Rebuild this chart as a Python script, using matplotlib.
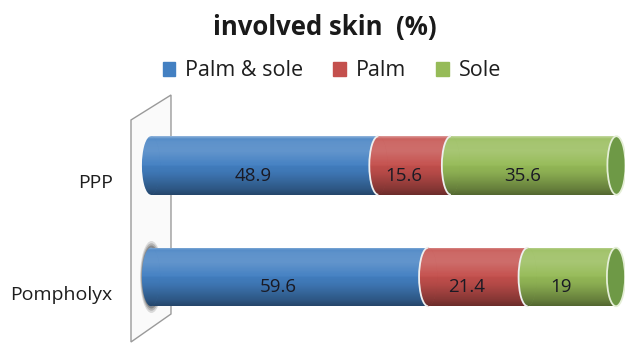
import numpy as np
import matplotlib
matplotlib.use('Agg')
import matplotlib.pyplot as plt
import matplotlib.transforms as mtrans
from matplotlib.patches import Ellipse, Arc, Polygon, Patch

plt.rcParams['font.family'] = ['Open Sans', 'DejaVu Sans']

categories = ['PPP', 'Pompholyx']
series = ['Palm & sole', 'Palm', 'Sole']
palm_sole = [48.9, 59.6]
palm = [15.6, 21.4]
sole = [35.6, 19]

colors = ['#4380c2', '#c4504d', '#96bb58']
cap_color = '#6e9946'
bar_h = 0.525
cap_w = 3.9

# vertical shading profile (top -> bottom) for the cylinder look
t = np.linspace(0, 1, 64)
white = np.interp(t, [0, 0.04, 0.1, 0.25, 0.45, 0.6, 1], [0.4, 0.1, 0.15, 0.17, 0.04, 0, 0])
black = np.interp(t, [0, 0.5, 0.65, 0.9, 1], [0, 0, 0.1, 0.32, 0.45])
grad = np.zeros((64, 1, 4))
grad[..., :3] = np.where(white[:, None, None] > 0, 1.0, 0.0)
grad[..., 3] = (white + black)[:, None]
grad[black > 0, :, :3] = 0.0


def shade(ax, patch, x0, x1, y, z):
    im = ax.imshow(grad, extent=(x0, x1, y + bar_h / 2, y - bar_h / 2),
                   origin='upper', aspect='auto', interpolation='bilinear', zorder=z)
    im.set_clip_path(patch)


fig = plt.figure(figsize=(6.25, 3.44), dpi=100)
ax = fig.add_axes([125 / 625, 0, 500 / 625, 1])

# back wall
wall = Polygon([(-4.3, -0.408), (4.3, -0.632), (4.3, 1.332), (-4.3, 1.583)], closed=True,
               fc='#fafafa', ec='#9a9a9a', lw=1.0, zorder=1)
ax.add_patch(wall)

# shadow of the lower bar on the wall
for k, a in enumerate([0.2, 0.3, 0.45]):
    ax.add_patch(Ellipse((0.1, 1), cap_w + 1.0 - k * 0.3, bar_h + 0.12 - k * 0.04,
                         fc='#5a5a5a', ec='none', alpha=a, zorder=2))

z = 3
for i, cat in enumerate(categories):
    vals = [palm_sole[i], palm[i], sole[i]]
    start = 0
    for j, v in enumerate(vals):
        bars = ax.barh(i, v, left=start, height=bar_h, color=colors[j], zorder=z)
        rect = bars.patches[0]
        shade(ax, rect, start - cap_w, start + v, i, z + 0.1)
        ell = Ellipse((start, i), cap_w, bar_h, fc=colors[j], ec='none', zorder=z + 0.2)
        ax.add_patch(ell)
        shade(ax, ell, start - cap_w, start + v, i, z + 0.3)
        if j > 0:
            ax.add_patch(Arc((start, i), cap_w, bar_h, theta1=90, theta2=270,
                             color='#eeeeee', lw=1.3, zorder=z + 0.4))
        ax.annotate(f'{v:g}', (start + v / 2, i), xytext=(-8, -7.5), textcoords='offset points',
                    ha='center', va='center', fontsize=13.5, color='#1a1a24', zorder=50)
        start += v
        z += 1
    ax.add_patch(Ellipse((start, i), cap_w, bar_h, fc=cap_color, ec='#e4eed6', lw=1.3, zorder=z))
    z += 1

handles = [Patch(color=c) for c in colors]
fig.legend(handles, series, loc='center', bbox_to_anchor=(332 / 625, 1 - 71 / 344), ncol=3,
           frameon=False, fontsize=15.5, handlelength=0.6, handleheight=0.6,
           handletextpad=0.45, columnspacing=1.4, labelcolor='#1e1e1e')

fig.text(325 / 625, 1 - 28 / 344, 'involved skin  (%)', ha='center', va='center',
         fontsize=18.5, fontweight='bold', color='#1a1a1a')

ax.set_xlim(-5.59, 101.94)
ax.set_ylim(1.601, -1.484)
ax.set_yticks(range(len(categories)), categories, fontsize=14, color='#1e1e1e')
ax.tick_params(axis='y', length=0, pad=9)
ax.set_xticks([])
off = mtrans.ScaledTranslation(0, -16 / 100, fig.dpi_scale_trans)
for lab in ax.get_yticklabels():
    lab.set_transform(lab.get_transform() + off)
for s in ax.spines.values():
    s.set_visible(False)
ax.patch.set_alpha(0)

fig.savefig('out.png', dpi=100)
